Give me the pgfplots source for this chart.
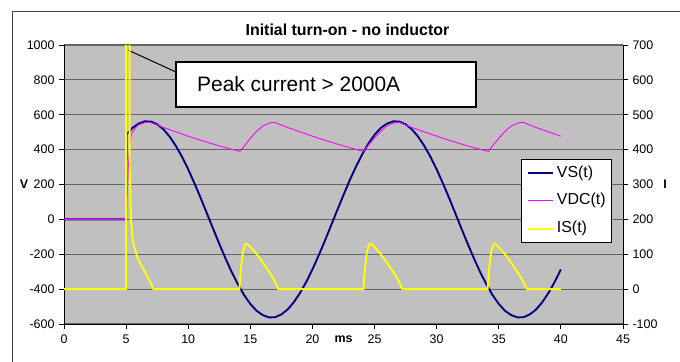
\documentclass[border=0pt]{standalone}
\usepackage{fontspec}
\setmainfont{Liberation Sans}
\usepackage{pgfplots}
\pgfplotsset{compat=1.18}
\definecolor{plotbg}{RGB}{192,192,192}
\definecolor{gridc}{RGB}{100,100,100}
\definecolor{vscol}{RGB}{0,0,128}
\definecolor{vdccol}{RGB}{255,0,255}
\definecolor{iscol}{RGB}{255,255,0}
\begin{document}
\begin{tikzpicture}
\pgfplotsset{
  common/.style={
    scale only axis, width=559bp, height=279bp,
    xmin=0, xmax=45,
    tick align=outside, major tick length=5bp,
    tick style={black, line width=0.8bp},
    /pgf/number format/assume math mode=true,
    /pgf/number format/1000 sep={},
    scaled ticks=false,
    tick label style={font=\fontsize{12.5}{14}\selectfont},
  }
}
\begin{axis}[common,
  ymin=-600, ymax=1000,
  ytick={-600,-400,...,1000},
  xtick={0,5,...,45},
  axis x line*=bottom, axis y line*=left,
  axis line style={black, line width=0.8bp},
  axis background/.style={fill=plotbg},
  ymajorgrids, major grid style={gridc, line width=1.2bp},
  yticklabel style={xshift=-1bp},
  xticklabel style={yshift=-2bp},
  title={Initial turn-on - no inductor},
  every axis title/.style={at={(axis description cs:0.507,1)}, anchor=base, yshift=9bp, font=\bfseries\fontsize{16}{19}\selectfont},
  xlabel={ms},
  every axis x label/.style={at={(axis description cs:0.5,0)}, anchor=base, yshift=-18bp, font=\bfseries\fontsize{12.5}{14}\selectfont},
  ylabel={V},
  every axis y label/.style={at={(axis description cs:0,0.5)}, anchor=center, xshift=-40bp, font=\bfseries\fontsize{12.5}{14}\selectfont},
]
% VS(t)
\addplot[vscol, line width=1.9bp] coordinates {
(0,0) (5.0,0) (5.05,488) (5.5,524) (6.0,549) (6.5,562) (7.0,561) (7.5,545) (8.0,517) (8.5,475)
(9.0,422) (9.5,359) (10.0,287) (10.5,207) (11.0,123) (11.5,35) (12.0,-53) (12.5,-140)
(13.0,-224) (13.5,-302) (14.0,-372) (14.5,-434) (15.0,-485) (15.5,-524) (16.0,-549)
(16.5,-562) (17.0,-561) (17.5,-545) (18.0,-517) (18.5,-475) (19.0,-422) (19.5,-359)
(20.0,-287) (20.5,-207) (21.0,-123) (21.5,-35) (22.0,53) (22.5,140) (23.0,224) (23.5,302)
(24.0,372) (24.5,434) (25.0,485) (25.5,524) (26.0,549) (26.5,562) (27.0,561) (27.5,545)
(28.0,517) (28.5,475) (29.0,422) (29.5,359) (30.0,287) (30.5,207) (31.0,123) (31.5,35)
(32.0,-53) (32.5,-140) (33.0,-224) (33.5,-302) (34.0,-372) (34.5,-434) (35.0,-485)
(35.5,-524) (36.0,-549) (36.5,-562) (37.0,-561) (37.5,-545) (38.0,-517) (38.5,-475)
(39.0,-422) (39.5,-359) (40.0,-287)
};
% VDC(t)
\addplot[vdccol, line width=0.9bp] coordinates {
(0,0) (5.0,0) (5.2,340) (5.35,470) (5.5,500) (5.75,525) (6.0,542) (6.5,555) (6.9,557)
(7.5,541) (8.0,527) (9.0,502) (10.0,477) (11.0,454) (12.0,432) (13.0,411) (14.15,390)
(14.5,420) (15.0,465) (15.5,505) (16.0,535) (16.5,552) (16.93,557)
(17.5,541) (18.0,527) (19.0,502) (20.0,477) (21.0,454) (22.0,432) (23.0,411) (24.1,390)
(24.5,425) (25.0,467) (25.5,505) (26.0,535) (26.5,552) (26.95,557)
(27.5,541) (28.0,527) (29.0,502) (30.0,477) (31.0,454) (32.0,432) (33.0,411) (34.15,390)
(34.5,422) (35.0,465) (35.5,505) (36.0,535) (36.5,552) (36.95,557)
(37.5,541) (38.0,527) (39.0,502) (40.0,477)
};
% callout
\draw[black, line width=1bp] (axis cs:5.15,971) -- (axis cs:9.02,845);
\draw[black, line width=1.5bp, fill=white] (axis cs:9.02,902.5) rectangle (axis cs:33.17,644.5);
\node[anchor=west, inner sep=0pt, font=\fontsize{21}{24}\selectfont] at (axis cs:10.71,773.5) {Peak current > 2000A};
\end{axis}
\begin{axis}[common,
  ymin=-100, ymax=700,
  ytick={-100,0,...,700},
  axis y line*=right, axis x line=none,
  axis line style={black, line width=0.8bp},
  yticklabel style={xshift=1bp},
  ylabel={I},
  every axis y label/.style={at={(axis description cs:1,0.5)}, anchor=center, xshift=42bp, font=\bfseries\fontsize{12.5}{14}\selectfont},
  legend cell align=left,
  legend image code/.code={\draw[#1] (0bp,0bp) -- (25bp,0bp);},
  legend style={at={(0.9803,0.2903)}, anchor=south east, draw=black, line width=0.8bp, fill=white,
    font=\fontsize{16}{19}\selectfont, inner xsep=6bp, inner ysep=6bp, row sep=11.8bp,
    nodes={inner sep=0pt, text height=12bp, text depth=4bp},
    /tikz/every odd column/.append style={column sep=3bp}},
]
\addlegendimage{vscol, line width=1.9bp}
\addlegendentry{VS(t)}
\addlegendimage{vdccol, line width=0.9bp}
\addlegendentry{VDC(t)}
% IS(t)
\addplot[iscol, line width=1.9bp] coordinates {
(0,0) (5.0,0) (5.0,2100) (5.28,2100) (5.28,380) (5.39,200) (5.53,141) (5.72,112) (5.98,84) (6.44,55)
(6.87,26) (7.2,0) (14.12,0) (14.25,60) (14.4,105) (14.55,125) (14.65,130) (14.85,127)
(15.5,101) (16.05,74) (16.5,50) (16.85,31) (17.25,0) (24.1,0) (24.23,60) (24.38,105)
(24.53,125) (24.63,130) (24.83,127) (25.48,101) (26.03,74) (26.48,50) (26.83,31) (27.24,0)
(34.1,0) (34.23,60) (34.38,105) (34.53,125) (34.63,130) (34.83,127) (35.48,101) (36.03,74)
(36.48,50) (36.83,31) (37.28,0) (40,0)
};
\addlegendentry{IS(t)}
\end{axis}
\draw[black!75, line width=0.8bp] (-52bp,-38bp) -- (-52bp,313bp) -- (616bp,313bp);
\pgfresetboundingbox
\path[use as bounding box] (-64bp,-38bp) rectangle (616bp,324bp);
\end{tikzpicture}
\end{document}
